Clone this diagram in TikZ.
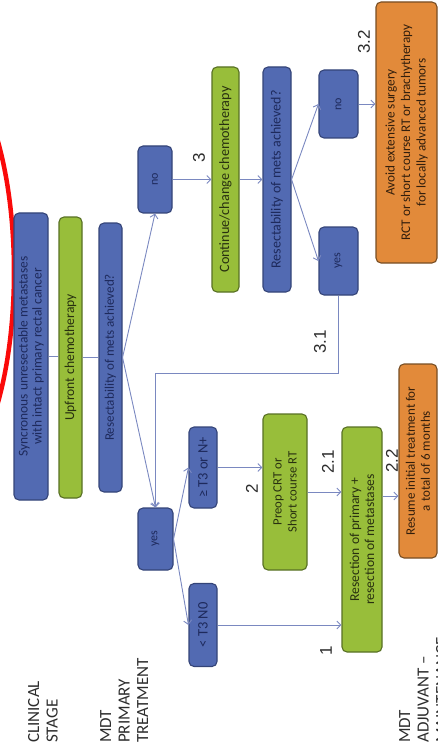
\documentclass[tikz,border=0pt]{standalone}
\usepackage{fontspec}
\setmainfont{Carlito}
\newfontfamily\numfont{Liberation Sans}
\usetikzlibrary{arrows.meta,calc}

\definecolor{boxblue}{RGB}{82,106,178}
\definecolor{boxblueline}{RGB}{52,68,120}
\definecolor{txtblue}{RGB}{30,42,92}
\definecolor{boxgreen}{RGB}{152,190,58}
\definecolor{boxgreenline}{RGB}{88,112,36}
\definecolor{txtgreen}{RGB}{40,48,16}
\definecolor{boxorange}{RGB}{226,138,58}
\definecolor{boxorangeline}{RGB}{120,78,36}
\definecolor{txtorange}{RGB}{50,30,12}
\definecolor{linkblue}{RGB}{122,136,192}
\definecolor{labelgrey}{RGB}{45,45,45}
\definecolor{markred}{RGB}{250,10,10}

\newcommand{\fs}[2]{\fontsize{#1}{#2}\selectfont}

\tikzset{
  box/.style={draw, rounded corners=5pt, line width=1.1pt, rotate=90,
              align=center, inner sep=2pt},
  sz/.style n args={2}{minimum height=#1, minimum width=#2},
  bluebox/.style={box, fill=boxblue, draw=boxblueline, text=txtblue},
  greenbox/.style={box, fill=boxgreen, draw=boxgreenline, text=txtgreen},
  orangebox/.style={box, fill=boxorange, draw=boxorangeline, text=txtorange},
  link/.style={draw=linkblue, line width=0.9pt},
  arr/.style={link, -{Straight Barb[length=4pt,width=8pt]}},
  numlabel/.style={rotate=90, font=\numfont\fs{17}{19}, text=labelgrey, inner sep=0pt},
  rowlabel/.style={rotate=90, anchor=north west, align=left,
                   font=\fs{17}{18.5}, text=labelgrey, inner sep=0pt},
}

\begin{document}
\begin{tikzpicture}[x=1pt,y=-1pt]
\useasboundingbox (0,0) rectangle (438,751);
\clip (0,0) rectangle (438,751);

% red marker stroke at the left edge
\draw[markred, line width=4.5pt] (-60,272) ellipse [x radius=74, y radius=210];

% first column: stage and upfront therapy
\node[bluebox, sz={34}{287}, font=\fs{13.4}{14}] (sync) at (31,356.5)
  {Syncronous unresectable metastases\\with intact primary rectal cancer};
\node[greenbox, sz={23}{281}, font=\fs{13.6}{15}] (upfront) at (70.5,357.5)
  {Upfront chemotherapy};
\node[bluebox, sz={23}{269}, font=\fs{13.1}{15}] (res1) at (110.5,357.5)
  {Resectability of mets achieved?};

% decision after upfront chemotherapy
\node[bluebox, sz={34}{67}, font=\fs{12}{14}] (no1) at (155,179.5) {no};
\node[bluebox, sz={35}{62}, font=\fs{12}{14}] (yes1) at (155.5,539) {yes};

% resectable branch
\node[bluebox, sz={28}{83}, font=\fs{14.5}{15}] (lt) at (203,625) {< T3 N0};
\node[bluebox, sz={28}{81}, font=\fs{14.5}{15}] (ge) at (203,467.5) {≥ T3 or N+};
\node[greenbox, sz={44}{156}, font=\fs{12.7}{15}] (preop) at (285,492)
  {Preop CRT or\\Short course RT};
\node[greenbox, sz={40}{225}, font=\fs{13.6}{15}] (res2) at (362,539.5)
  {Resection of primary +\\resection of metastases};
\node[orangebox, sz={38}{194}, font=\fs{13}{15}] (resume) at (418,461)
  {Resume initial treatment for\\a total of 6 months};

% unresectable branch
\node[greenbox, sz={27}{225}, font=\fs{14.2}{15}] (cont) at (225.5,179.5)
  {Continue/change chemotherapy};
\node[bluebox, sz={28}{225}, font=\fs{14}{15}] (res3) at (277,179.5)
  {Resectability of mets achieved?};
\node[bluebox, sz={39}{68}, font=\fs{12}{14}] (no2) at (338.5,104) {no};
\node[bluebox, sz={39}{68}, font=\fs{12}{14}] (yes2) at (338.5,261) {yes};
\node[orangebox, sz={61}{261}, font=\fs{13.2}{15.5}] (avoid) at (406.5,132.5)
  {Avoid extensive surgery\\RCT or short course RT or brachytherapy\\for locally advanced tumors};

% connectors
\draw[link] (sync.south) -- (sync.south -| upfront.north);
\draw[link] (upfront.south) -- (upfront.south -| res1.north);
\draw[arr] (res1.south) -- (no1.west);
\draw[arr] (res1.south) -- (yes1.east);
\draw[arr] (no1.south) -- (no1.south -| cont.north);
\draw[arr] (cont.south) -- (cont.south -| res3.north);
\draw[arr] (res3.south) -- (no2.north);
\draw[arr] (res3.south) -- (yes2.north);
\draw[arr] (no2.south) -- (no2.south -| avoid.north);
\draw[arr] (yes2.west) -- ++(0,78) -| (yes1.east);
\draw[arr] (yes1.south) -- (lt.north);
\draw[arr] (yes1.south) -- (ge.north);
\draw[arr] (ge.south) -- (ge.south -| preop.north);
\draw[arr] (preop.south) -- (preop.south -| res2.north);
\draw[arr] (lt.south) -- (lt.south -| res2.north);
\coordinate (r22) at (0,496);
\draw[arr] (res2.south |- r22) -- (resume.north |- r22);

% step numbers
\node[numlabel] (l3)  at (199,158) {3};
\node[numlabel] (l32) at (364,42)  {3.2};
\node[numlabel] (l31) at (320,342) {3.1};
\node[numlabel] (l2)  at (252,489) {2};
\node[numlabel] (l21) at (328,462) {2.1};
\node[numlabel] (l1)  at (326,651) {1};
\node[numlabel] (l22) at (392,461) {2.2};

% row headings
\node[rowlabel] (clin) at (28,743) {CLINICAL\\STAGE};
\node[rowlabel] (prim) at (100,743) {MDT\\PRIMARY\\TREATMENT};
\node[rowlabel] (adj)  at (399,743) {MDT\\ADJUVANT –\\MAINTENANCE};
\end{tikzpicture}
\end{document}
